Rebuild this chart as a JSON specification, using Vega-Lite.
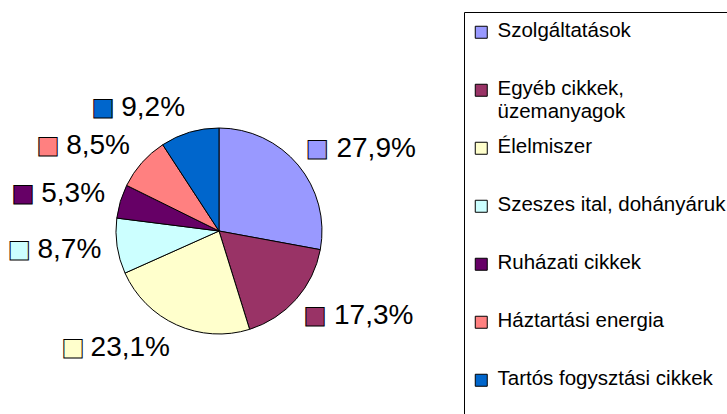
{
  "$schema": "https://vega.github.io/schema/vega-lite/v6.json",
  "width": 438,
  "height": 462,
  "padding": 0,
  "background": "white",
  "config": {"view": {"stroke": null}},
  "data": {
    "values": [
      {"category": "Szolgáltatások", "value": 27.9, "rank": 1},
      {"category": "Egyéb cikkek, üzemanyagok", "value": 17.3, "rank": 2},
      {"category": "Élelmiszer", "value": 23.1, "rank": 3},
      {"category": "Szeszes ital, dohányáruk", "value": 8.7, "rank": 4},
      {"category": "Ruházati cikkek", "value": 5.3, "rank": 5},
      {"category": "Háztartási energia", "value": 8.5, "rank": 6},
      {"category": "Tartós fogysztási cikkek", "value": 9.2, "rank": 7}
    ]
  },
  "encoding": {
    "theta": {"field": "value", "type": "quantitative", "stack": true},
    "order": {"field": "rank", "type": "ordinal"},
    "color": {
      "field": "category",
      "type": "nominal",
      "sort": null,
      "scale": {
        "domain": ["Szolgáltatások", "Egyéb cikkek, üzemanyagok", "Élelmiszer", "Szeszes ital, dohányáruk", "Ruházati cikkek", "Háztartási energia", "Tartós fogysztási cikkek"],
        "range": ["#9999FF", "#993366", "#FFFFCC", "#CCFFFF", "#660066", "#FF8080", "#0066CC"]
      },
      "legend": {
        "orient": "none",
        "legendX": 464,
        "legendY": 12,
        "title": " ",
        "titleOrient": "bottom",
        "titleFontSize": 20,
        "titlePadding": 30,
        "strokeColor": "black",
        "fillColor": "white",
        "padding": 10,
        "gridAlign": "all",
        "symbolType": "square",
        "symbolSize": 144,
        "symbolOffset": -3,
        "symbolStrokeColor": "black",
        "symbolStrokeWidth": 1,
        "symbolOpacity": 1,
        "labelFont": "Liberation Sans",
        "labelFontSize": 20.5,
        "labelColor": "black",
        "labelLimit": 400,
        "labelOffset": 6,
        "labelBaseline": "top",
        "rowPadding": 14,
        "labelExpr": "datum.label == 'Egyéb cikkek, üzemanyagok' ? ['Egyéb cikkek,', 'üzemanyagok'] : datum.label",
        "encode": {"labels": {"update": {"dy": {"value": -11}}}}
      }
    }
  },
  "layer": [
    {"mark": {"type": "arc", "outerRadius": 103, "stroke": "black", "strokeWidth": 1}},
    {
      "mark": {
        "type": "text",
        "radius": 119,
        "font": "Liberation Sans",
        "fontSize": 28,
        "baseline": "middle",
        "align": {"expr": "sin(PI * (datum.value_start + datum.value_end) / 100) >= 0 ? 'left' : 'right'"},
        "dx": {"expr": "sin(PI * (datum.value_start + datum.value_end) / 100) >= 0 ? 26 : 0"},
        "dy": {"expr": "-cos(PI * (datum.value_start + datum.value_end) / 100) * 9"},
        "text": {"expr": "replace(format(datum.value, '.1f'), '.', ',') + '%'"}
      },
      "encoding": {"color": {"value": "black"}}
    },
    {
      "mark": {
        "type": "text",
        "radius": 119,
        "text": "■",
        "font": "DejaVu Sans",
        "fontSize": 24,
        "align": "center",
        "baseline": "middle",
        "stroke": "black",
        "strokeWidth": 1,
        "dx": {"expr": "sin(PI * (datum.value_start + datum.value_end) / 100) >= 0 ? 7 : -((datum.value >= 10 ? 79 : 64) + 18)"},
        "dy": {"expr": "-cos(PI * (datum.value_start + datum.value_end) / 100) * 9"}
      }
    }
  ]
}
